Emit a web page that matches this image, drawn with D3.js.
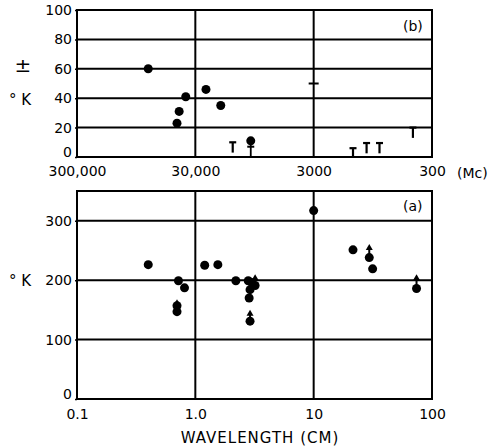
<!DOCTYPE html>
<html>
<head>
<meta charset="utf-8">
<script src="https://cdn.jsdelivr.net/npm/d3@7"></script>
<style>
  body { margin: 0; background: #fff; }
  text { font-family: "DejaVu Sans", sans-serif; fill: #000; }
</style>
</head>
<body>
<svg id="chart" width="490" height="447"></svg>
<script>
// tick values / labels
const cmTicks = [0.1, 1, 10, 100];
const cmLabels = ["0.1", "1.0", "10", "100"];
const mcTicks = [300000, 30000, 3000, 300];
const mcLabels = ["300,000", "30,000", "3000", "300"];
const topYTicks = [0, 20, 40, 60, 80, 100];
const botYTicks = [0, 100, 200, 300];

// (b) +/- deg K vs wavelength (cm)
const topDots = [[0.4, 60], [0.7, 23], [0.73, 31], [0.83, 41], [1.23, 46], [1.64, 35]];
// T shaped bars: [wavelength, top, bottom]
const topTees = [[2.07, 10, 3], [21.5, 6, 0], [28, 9.5, 2.5], [36, 9.5, 2.5], [69, 20, 13]];
// dot on a stem: [wavelength, dot, stem end, crossbar]
const topStemDots = [[2.94, 11, 0, 7]];
const topDashes = [[10, 50]];

// (a) deg K vs wavelength (cm)
const botDots = [[0.4, 226], [0.72, 199], [0.81, 187], [0.7, 147], [1.2, 225], [1.55, 226],
  [2.2, 199], [2.8, 199], [3.0, 196], [2.9, 184], [2.85, 170], [10, 317], [21.5, 251], [31.5, 219]];
// lower limits: [wavelength, dot, arrow tip]
const botLimits = [[0.7, 157, 168], [3.2, 191, 210], [2.9, 131, 150], [29.5, 238, 261], [74, 186, 210]];

const svg = d3.select("#chart");
const left = 77, right = 432;

const x = d3.scaleLog().domain([0.1, 100]).range([left, right]);
const xMc = d3.scaleLog().domain([300000, 300]).range([left, right]);
const yTop = d3.scaleLinear().domain([0, 100]).range([157, 10]);
const yBot = d3.scaleLinear().domain([0, 350]).range([399, 191]);

const R = 4.5;

function panel(y, yTicks, vLines, hLines) {
  const g = svg.append("g");
  hLines.forEach((v) => g.append("line")
    .attr("x1", left).attr("x2", right).attr("y1", y(v)).attr("y2", y(v))
    .attr("stroke", "#000").attr("stroke-width", 2));
  vLines.forEach((px) => g.append("line")
    .attr("x1", px).attr("x2", px).attr("y1", y.range()[0]).attr("y2", y.range()[1])
    .attr("stroke", "#000").attr("stroke-width", 2));
  g.append("rect")
    .attr("x", left).attr("y", y.range()[1])
    .attr("width", right - left).attr("height", y.range()[0] - y.range()[1])
    .attr("fill", "none").attr("stroke", "#000").attr("stroke-width", 2);

  const ax = g.append("g")
    .attr("transform", `translate(${left},0)`)
    .call(d3.axisLeft(y).tickValues(yTicks).tickSize(2).tickPadding(3));
  ax.select(".domain").remove();
  ax.selectAll(".tick line").attr("stroke-width", 1.5);
  ax.selectAll("text").attr("font-size", 14).style("font-family", "DejaVu Sans");
  // the zero label sits a little high, clear of the x labels
  ax.selectAll(".tick").filter((d) => d === 0).select("text").attr("dy", "-0.05em");
  return g;
}

// ---- top panel (b)
const gTop = panel(yTop, topYTicks, [xMc(30000), xMc(3000)], [20, 40, 60, 80]);

const axMc = gTop.append("g")
  .attr("transform", `translate(0,${yTop(0)})`)
  .call(d3.axisBottom(xMc).tickValues(mcTicks).tickSize(0).tickPadding(9)
    .tickFormat((d, i) => mcLabels[i]));
axMc.select(".domain").remove();
axMc.selectAll("text").attr("font-size", 14).style("font-family", "DejaVu Sans");
gTop.append("text").attr("x", 457).attr("y", 178).attr("font-size", 14).text("(Mc)");
gTop.append("text").attr("x", 403).attr("y", 31).attr("font-size", 14).text("(b)");

gTop.append("text").attr("x", 23).attr("y", 72).attr("font-size", 20)
  .attr("text-anchor", "middle").text("±");
gTop.append("text").attr("x", 20).attr("y", 105).attr("font-size", 15)
  .attr("text-anchor", "middle").text("° K");

gTop.selectAll("circle.d").data(topDots).join("circle")
  .attr("cx", (d) => x(d[0])).attr("cy", (d) => yTop(d[1])).attr("r", R);

topTees.forEach(([w, hi, lo]) => {
  gTop.append("line").attr("x1", x(w) - 3.5).attr("x2", x(w) + 3.5)
    .attr("y1", yTop(hi)).attr("y2", yTop(hi)).attr("stroke", "#000").attr("stroke-width", 2.2);
  gTop.append("line").attr("x1", x(w)).attr("x2", x(w))
    .attr("y1", yTop(hi)).attr("y2", yTop(lo)).attr("stroke", "#000").attr("stroke-width", 2.2);
});

topStemDots.forEach(([w, v, lo, bar]) => {
  gTop.append("line").attr("x1", x(w)).attr("x2", x(w))
    .attr("y1", yTop(v)).attr("y2", yTop(lo)).attr("stroke", "#000").attr("stroke-width", 1.8);
  gTop.append("line").attr("x1", x(w) - 3.5).attr("x2", x(w) + 3.5)
    .attr("y1", yTop(bar)).attr("y2", yTop(bar)).attr("stroke", "#000").attr("stroke-width", 2);
  gTop.append("circle").attr("cx", x(w)).attr("cy", yTop(v)).attr("r", R);
});

topDashes.forEach(([w, v]) => gTop.append("line")
  .attr("x1", x(w) - 5).attr("x2", x(w) + 5).attr("y1", yTop(v)).attr("y2", yTop(v))
  .attr("stroke", "#000").attr("stroke-width", 2));

// ---- bottom panel (a)
const gBot = panel(yBot, botYTicks, [x(1), x(10)], [100, 200, 300]);

const axCm = gBot.append("g")
  .attr("transform", `translate(0,${yBot(0)})`)
  .call(d3.axisBottom(x).tickValues(cmTicks).tickSize(0).tickPadding(10)
    .tickFormat((d, i) => cmLabels[i]));
axCm.select(".domain").remove();
axCm.selectAll("text").attr("font-size", 14).style("font-family", "DejaVu Sans");

gBot.append("text").attr("x", 260).attr("y", 443).attr("font-size", 15)
  .attr("letter-spacing", 1).attr("text-anchor", "middle").text("WAVELENGTH (CM)");
gBot.append("text").attr("x", 403).attr("y", 211).attr("font-size", 14).text("(a)");
gBot.append("text").attr("x", 20).attr("y", 286).attr("font-size", 15)
  .attr("text-anchor", "middle").text("° K");

gBot.selectAll("circle.d").data(botDots).join("circle")
  .attr("cx", (d) => x(d[0])).attr("cy", (d) => yBot(d[1])).attr("r", R);

botLimits.forEach(([w, v, tip]) => {
  const cx = x(w), ty = yBot(tip);
  gBot.append("line").attr("x1", cx).attr("x2", cx)
    .attr("y1", yBot(v)).attr("y2", ty + 4).attr("stroke", "#000").attr("stroke-width", 2);
  gBot.append("path")
    .attr("d", `M${cx},${ty} L${cx - 3.5},${ty + 6} L${cx + 3.5},${ty + 6} Z`);
  gBot.append("circle").attr("cx", cx).attr("cy", yBot(v)).attr("r", R);
});
</script>
</body>
</html>
